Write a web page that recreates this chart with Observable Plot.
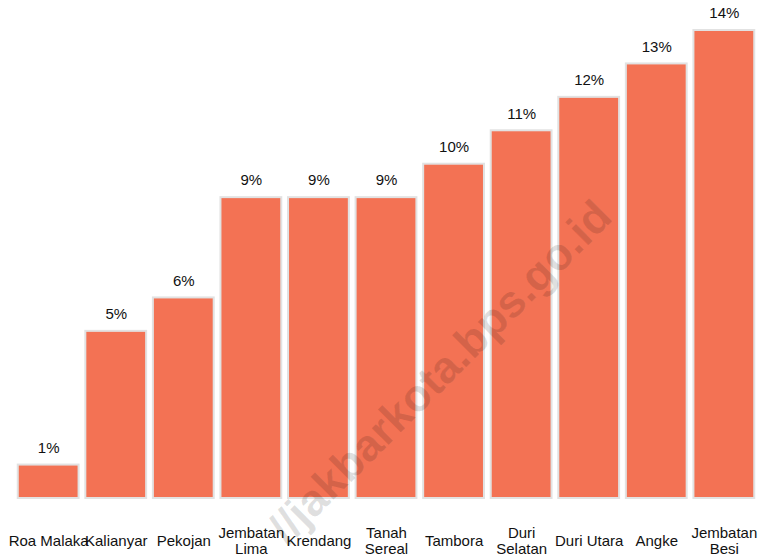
<!DOCTYPE html>
<html>
<head>
<meta charset="utf-8">
<script src="https://cdn.jsdelivr.net/npm/d3@7"></script>
<script src="https://cdn.jsdelivr.net/npm/@observablehq/plot@0.6"></script>
<style>
  html, body { margin: 0; padding: 0; background: #fff; }
  #chart { width: 764px; height: 558px; }
</style>
</head>
<body>
<div id="chart"></div>
<script>
const categories = ["Roa Malaka", "Kalianyar", "Pekojan", "Jembatan\nLima", "Krendang", "Tanah\nSereal", "Tambora", "Duri\nSelatan", "Duri Utara", "Angke", "Jembatan\nBesi"];
const values = [1, 5, 6, 9, 9, 9, 10, 11, 12, 13, 14];
const valueLabels = ["1%", "5%", "6%", "9%", "9%", "9%", "10%", "11%", "12%", "13%", "14%"];

const data = categories.map((c, i) => ({category: c, value: values[i], label: valueLabels[i]}));

const chart = Plot.plot({
  width: 764,
  height: 558,
  marginLeft: 11,
  marginRight: 3,
  marginTop: 30,
  marginBottom: 60,
  style: {fontFamily: "Liberation Sans, Arial, Helvetica, sans-serif", fontSize: "15px", background: "#fff"},
  x: {domain: categories, padding: 0.1, round: false, axis: null},
  y: {domain: [0, 14], axis: null},
  marks: [
    Plot.barY(data, {x: "category", y: "value", fill: "#f37254", stroke: "#e2e2e2", strokeWidth: 2}),
    Plot.text(data, {x: "category", y: "value", text: "label", dy: -17, fill: "#111", fontSize: 15}),
    Plot.text(data, {x: "category", y: 0, text: "category", dy: 42, lineAnchor: "middle", lineHeight: 1.1, fill: "#111", fontSize: 15}),
    Plot.text(["//jakbarkota.bps.go.id"], {frameAnchor: "middle", text: d => d, dx: 54, dy: 108, rotate: -45, fontSize: 45, fontWeight: "bold", fill: "#000", fillOpacity: 0.12})
  ]
});
document.getElementById("chart").appendChild(chart);
</script>
</body>
</html>
